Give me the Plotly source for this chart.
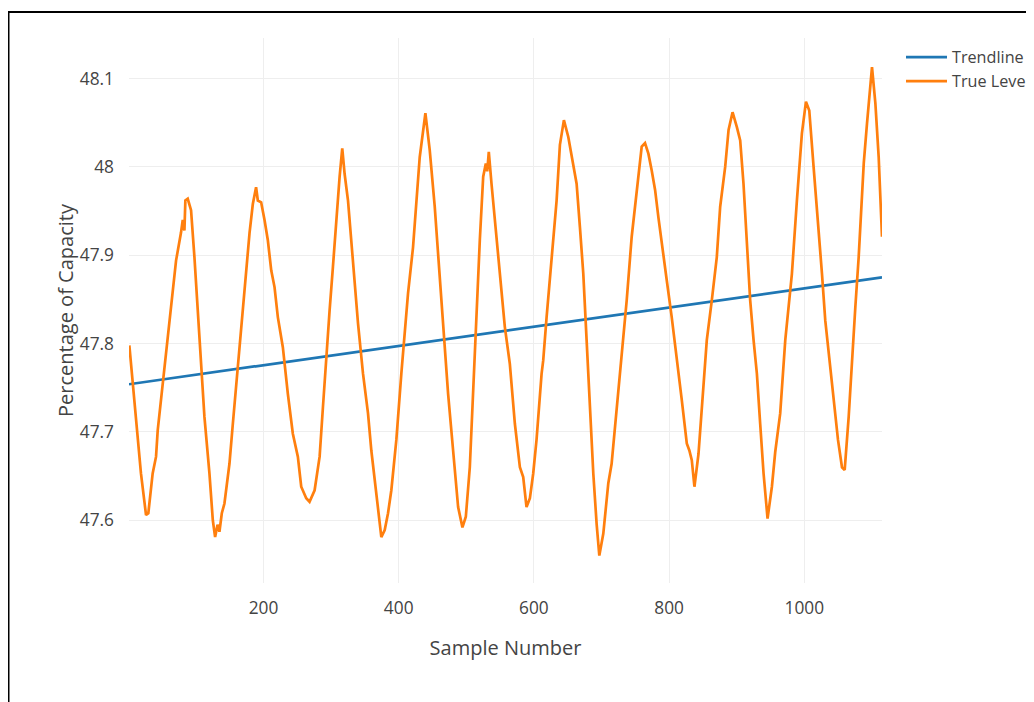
import plotly.graph_objects as go

# Trendline (linear fit) endpoints
trend_x = [1, 1115]
trend_y = [47.754, 47.875]

# True Level series
level_x = [1.5, 11.4, 18.7, 26.2, 29.6, 36, 41, 43.5, 50.9, 58.3, 65.7, 70.6, 78, 80.5, 83, 84.4, 87.9, 92.8,
           97.8, 105.2, 112.6, 120, 125, 128.4, 132, 134.8, 138.3, 142.2, 149.6, 154.6, 162, 171.9, 179.3, 184.2,
           189, 191.6, 196.5, 201.5, 206.4, 211.4, 216.3, 221.2, 228.6, 236, 243.4, 250.8, 255.8, 263.2, 268.1,
           275.6, 283, 287.9, 292.8, 297.8, 302.7, 307.7, 312.6, 316.5, 320, 325, 332.4, 339.8, 347.2, 354.6,
           359.5, 364.4, 369.4, 374.3, 379.3, 384.2, 389.1, 396.5, 403.9, 413.8, 421.2, 426.2, 431.1, 439.5,
           445.9, 453.3, 460.7, 465.7, 473.1, 480.5, 487.9, 494.3, 499.3, 505.2, 510.1, 515.1, 520, 525, 528.9,
           531, 533.3, 537.3, 542.2, 549.6, 557, 564.4, 571.9, 579.3, 584.2, 589.1, 594.1, 599, 603.9, 611.4,
           613.8, 618.8, 626.2, 633.6, 638.5, 644.4, 650.9, 658.3, 663.2, 668.1, 673.1, 678, 682.9, 687.9,
           692.8, 696.8, 702.7, 710.1, 715, 722.5, 729.9, 737.3, 744.7, 752.1, 757, 759.5, 764.4, 769.4, 774.3,
           779.3, 784.2, 789.1, 796.5, 803.9, 811.4, 818.8, 826.2, 830, 833.6, 837.5, 843.5, 850.9, 855.8,
           863.2, 870.6, 875.6, 883, 888, 893.9, 900.3, 905.2, 910.1, 915.1, 920, 925, 929.9, 934.8, 939.8,
           945.7, 952.1, 957, 964.4, 971.9, 981.7, 989.1, 996.5, 1002.5, 1007.4, 1013.8, 1018.8, 1026.2,
           1031.1, 1036, 1043.5, 1049.9, 1055.8, 1059.8, 1065.7, 1070.6, 1075.6, 1080.5, 1088, 1092.8, 1100.2,
           1105.2, 1110.1, 1115]
level_y = [47.798, 47.709, 47.653, 47.606, 47.608, 47.653, 47.672, 47.702, 47.753, 47.811, 47.857, 47.894,
           47.926, 47.94, 47.928, 47.962, 47.964, 47.951, 47.898, 47.804, 47.717, 47.653, 47.600, 47.581,
           47.595, 47.587, 47.608, 47.619, 47.664, 47.709, 47.774, 47.86, 47.925, 47.958, 47.977, 47.962,
           47.96, 47.94, 47.917, 47.883, 47.864, 47.83, 47.796, 47.743, 47.698, 47.672, 47.638, 47.625, 47.621,
           47.634, 47.672, 47.728, 47.785, 47.838, 47.887, 47.94, 47.989, 48.021, 47.992, 47.962, 47.894,
           47.823, 47.766, 47.721, 47.679, 47.645, 47.615, 47.581, 47.589, 47.608, 47.634, 47.691, 47.766,
           47.857, 47.909, 47.958, 48.011, 48.061, 48.019, 47.955, 47.879, 47.83, 47.743, 47.679, 47.615,
           47.592, 47.604, 47.66, 47.747, 47.842, 47.917, 47.989, 48.004, 47.995, 48.017, 47.981, 47.94,
           47.879, 47.819, 47.777, 47.709, 47.66, 47.649, 47.615, 47.625, 47.653, 47.691, 47.766, 47.781,
           47.83, 47.898, 47.962, 48.025, 48.053, 48.034, 48.0, 47.981, 47.932, 47.879, 47.804, 47.728,
           47.653, 47.596, 47.56, 47.585, 47.642, 47.664, 47.728, 47.785, 47.849, 47.921, 47.974, 48.004,
           48.023, 48.027, 48.015, 47.996, 47.974, 47.943, 47.913, 47.872, 47.83, 47.785, 47.736, 47.687,
           47.679, 47.668, 47.638, 47.675, 47.758, 47.804, 47.849, 47.898, 47.955, 48.0, 48.042, 48.062,
           48.045, 48.03, 47.981, 47.917, 47.849, 47.804, 47.766, 47.709, 47.653, 47.602, 47.638, 47.677,
           47.721, 47.804, 47.879, 47.962, 48.038, 48.074, 48.064, 48.0, 47.955, 47.879, 47.826, 47.789,
           47.736, 47.691, 47.66, 47.657, 47.717, 47.785, 47.842, 47.898, 48.004, 48.049, 48.113, 48.072,
           48.011, 47.921]

x_ticks = [200, 400, 600, 800, 1000]
y_ticks = [47.6, 47.7, 47.8, 47.9, 48, 48.1]
x_range = [1, 1115]
y_range = [47.529, 48.146]

# figure is placed at (8, 8) in the page by the default body margin
W, H = 1026, 694
L, T, PW, PH = 121, 30, 753, 545

fig = go.Figure()
fig.add_trace(go.Scatter(x=trend_x, y=trend_y, mode="lines", name="Trendline",
                         line=dict(color="#1f77b4", width=2.7)))
fig.add_trace(go.Scatter(x=level_x, y=level_y, mode="lines", name="True Level",
                         line=dict(color="#ff7f0e", width=2.7)))

axis_common = dict(showgrid=True, gridcolor="#eeeeee", gridwidth=1.4, zeroline=False,
                   showline=False, ticks="", tickfont=dict(family="Open Sans", size=17.3, color="#444"))

fig.update_layout(
    width=W, height=H,
    margin=dict(l=L, r=W - L - PW, t=T, b=H - T - PH, autoexpand=False),
    paper_bgcolor="white", plot_bgcolor="white",
    font=dict(family="Open Sans", color="#444"),
    xaxis=dict(range=x_range, title=dict(text="Sample Number", font=dict(size=20), standoff=22),
               tickvals=x_ticks, ticklabelstandoff=13, **axis_common),
    yaxis=dict(range=y_range, title=dict(text="Percentage of Capacity", font=dict(size=20), standoff=0),
               tickvals=y_ticks, ticklabelstandoff=14, **axis_common),
    legend=dict(x=(893 - L) / PW, y=1 - 2 / PH, xanchor="left", yanchor="top", font=dict(size=16.2),
                itemwidth=41, bgcolor="rgba(0,0,0,0)"),
    shapes=[dict(type="rect", xref="paper", yref="paper",
                 x0=(0.5 - L) / PW, x1=(W + 20 - L) / PW,
                 y0=(T + PH - H - 20) / PH, y1=(T + PH - 4) / PH,
                 line=dict(color="black", width=2), fillcolor="rgba(0,0,0,0)", layer="below")],
)

fig.write_html("out.html")
